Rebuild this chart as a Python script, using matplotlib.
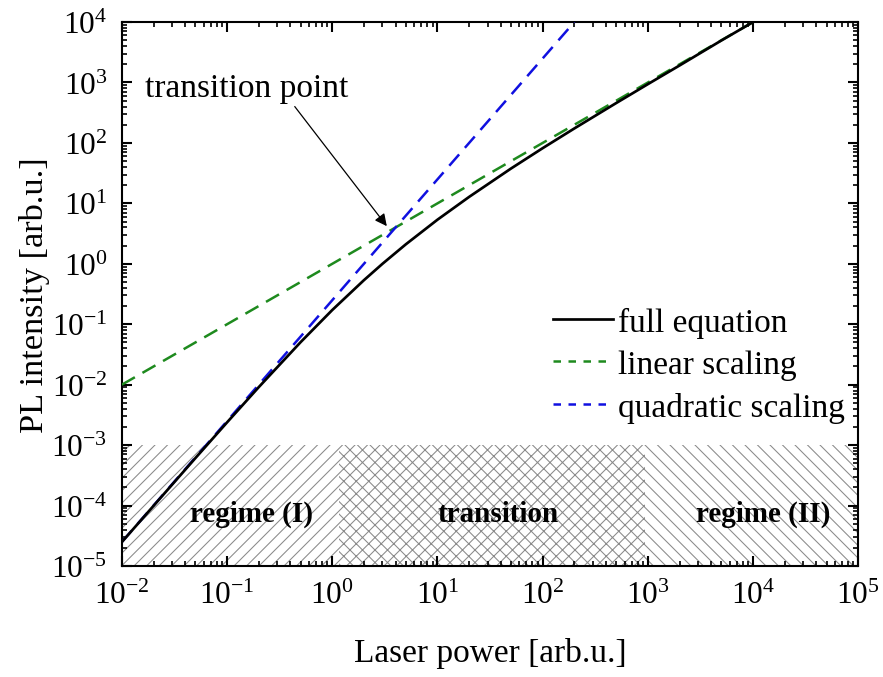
import matplotlib
matplotlib.use('Agg')
import matplotlib.pyplot as plt
from matplotlib.lines import Line2D
from matplotlib.ticker import LogLocator, NullFormatter

plt.rcParams['font.family'] = ['Liberation Serif', 'DejaVu Serif']
plt.rcParams['mathtext.fontset'] = 'stix'
plt.rcParams['hatch.linewidth'] = 0.5

# laser power and PL intensity
power_full = [0.01, 0.02, 0.05, 0.1, 0.2, 0.5, 1, 2, 3, 5, 10, 20, 50,
              100, 200, 500, 1000, 2000, 5000, 10000]
pl_full = [2.49e-5, 9.9e-5, 6.1e-4, 2.38e-3, 9.1e-3, 0.0505, 0.172, 0.536,
           1.0, 2.1, 5.37, 12.8, 37.7, 81.9, 173.6, 457, 939, 1912, 4959, 10001]

power_lin = [0.01, 10000]
pl_lin = [0.01, 10000]

power_quad = [0.01, 200]
pl_quad = [2.5e-5, 10000]

# hatched regimes below PL = 1e-3
region_edges = [0.01, 1.15, 930, 1e5]
region_names = ['regime (I)', 'transition', 'regime (II)']
region_hatch = ['////', 'xxxx', '\\\\\\\\']
region_label_x = [0.17, 38, 1.25e4]
region_top = 1e-3

trans_tip = (3.3, 4.2)
trans_tail = (0.44, 400)

green = '#1e8a1e'
blue = '#1010e0'

fig = plt.figure(figsize=(883 / 150, 678 / 150), dpi=150)
ax = fig.add_axes([0.138, 0.1637, 0.834, 0.8023])

for i in range(3):
    ax.fill_between([region_edges[i], region_edges[i + 1]], 1e-5, region_top,
                    facecolor='none', edgecolor='#8a8a8a', hatch=region_hatch[i],
                    linewidth=0, zorder=1)
    ax.text(region_label_x[i], 7.3e-5, region_names[i], fontsize=14,
            fontweight='bold', ha='center', va='center', zorder=2)

ax.plot(power_full, pl_full, color='black', lw=1.3, zorder=4)
ax.plot(power_lin, pl_lin, color=green, lw=1.2, dashes=(6, 3.5), zorder=3)
ax.plot(power_quad, pl_quad, color=blue, lw=1.2, dashes=(6, 3.5), zorder=3)

ax.annotate('', xy=trans_tip, xytext=trans_tail,
            arrowprops=dict(arrowstyle='-|>', color='black', lw=0.6,
                            mutation_scale=12, shrinkA=0, shrinkB=0))
ax.text(0.0165, 820, 'transition point', fontsize=16, ha='left', va='center')

ax.set_xscale('log')
ax.set_yscale('log')
ax.set_xlim(1e-2, 1e5)
ax.set_ylim(1e-5, 1e4)

ax.xaxis.set_major_locator(LogLocator(base=10, numticks=20))
ax.yaxis.set_major_locator(LogLocator(base=10, numticks=20))
ax.xaxis.set_minor_locator(LogLocator(base=10, subs=range(2, 10), numticks=20))
ax.yaxis.set_minor_locator(LogLocator(base=10, subs=range(2, 10), numticks=20))
ax.xaxis.set_minor_formatter(NullFormatter())
ax.yaxis.set_minor_formatter(NullFormatter())

ax.tick_params(which='both', direction='in', top=True, right=True, labelsize=15)
ax.tick_params(which='major', length=5, width=1.0, pad=7)
ax.tick_params(which='minor', length=2.5, width=0.8)
for s in ax.spines.values():
    s.set_linewidth(1.0)

ax.set_xlabel('Laser power [arb.u.]', fontsize=16)
ax.set_ylabel('PL intensity [arb.u.]', fontsize=16.5)
ax.xaxis.set_label_coords(0.5, -0.13)
ax.yaxis.set_label_coords(-0.098, 0.5)

handles = [Line2D([], [], color='black', lw=1.3),
           Line2D([], [], color=green, lw=1.2, dashes=(3, 3)),
           Line2D([], [], color=blue, lw=1.2, dashes=(3, 3))]
ax.legend(handles, ['full equation', 'linear scaling', 'quadratic scaling'],
          loc='center right', bbox_to_anchor=(1.0, 0.37), frameon=False,
          fontsize=16, handlelength=1.8, handletextpad=0.15, labelspacing=0.35,
          borderaxespad=0.0)

fig.savefig('out.png', dpi=150)
